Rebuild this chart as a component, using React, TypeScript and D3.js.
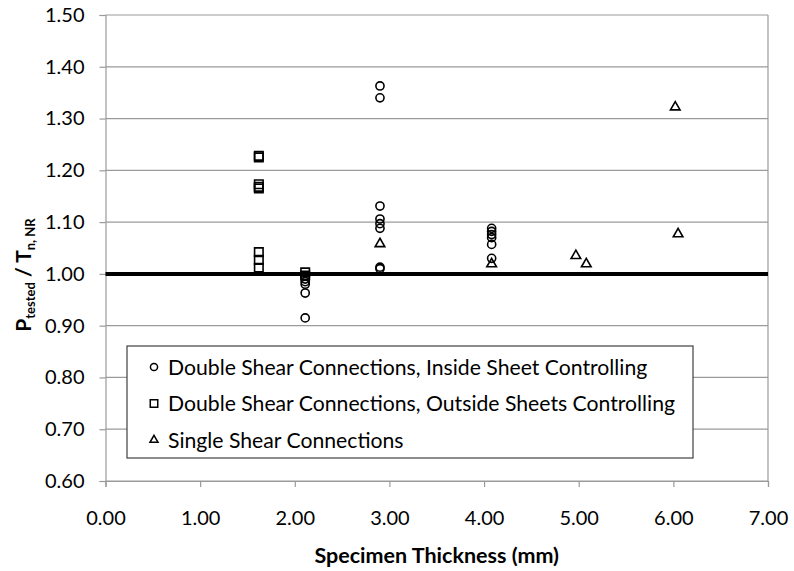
import React, { useEffect, useRef } from 'react';
import * as d3 from 'd3';

const W = 794;
const H = 571;
const M = { top: 15, right: 26, bottom: 90, left: 105.5 };

const xTicks = [0, 1, 2, 3, 4, 5, 6, 7];
const yTicks = [0.6, 0.7, 0.8, 0.9, 1.0, 1.1, 1.2, 1.3, 1.4, 1.5];

// [thickness (mm), P_tested / T_n,NR]
const insideSheet: [number, number][] = [
  [2.11, 0.99], [2.11, 0.985], [2.11, 0.98], [2.11, 0.963], [2.11, 0.915],
  [2.9, 1.363], [2.9, 1.34], [2.9, 1.131], [2.9, 1.106], [2.9, 1.097], [2.9, 1.088],
  [2.9, 1.013], [2.9, 1.01],
  [4.08, 1.088], [4.08, 1.082], [4.08, 1.076], [4.08, 1.07], [4.08, 1.057], [4.08, 1.03],
];
const outsideSheets: [number, number][] = [
  [1.62, 1.228], [1.62, 1.225], [1.62, 1.173], [1.62, 1.168], [1.62, 1.165],
  [1.62, 1.042], [1.62, 1.027], [1.62, 1.012],
  [2.11, 1.003], [2.11, 0.997],
];
const singleShear: [number, number][] = [
  [2.9, 1.06], [4.08, 1.021], [4.97, 1.037], [5.08, 1.021], [6.02, 1.324], [6.05, 1.079],
];
const legendLabels = [
  'Double Shear Connections, Inside Sheet Controlling',
  'Double Shear Connections, Outside Sheets Controlling',
  'Single Shear Connections',
];

const FONT = 'Lato, "Open Sans", sans-serif';
const GRID = '#9a9a9a';

export default function App() {
  const ref = useRef<SVGSVGElement>(null);

  useEffect(() => {
    const svg = d3.select(ref.current);
    svg.selectAll('*').remove();
    const innerW = W - M.left - M.right;
    const innerH = H - M.top - M.bottom;

    const x = d3.scaleLinear().domain([0, 7]).range([0, innerW]);
    const y = d3.scaleLinear().domain([0.6, 1.5]).range([innerH, 0]);

    const g = svg.append('g').attr('transform', `translate(${M.left},${M.top})`);

    // gridlines
    g.selectAll('line.grid')
      .data(yTicks)
      .join('line')
      .attr('class', 'grid')
      .attr('x1', 0)
      .attr('x2', innerW)
      .attr('y1', (d) => y(d))
      .attr('y2', (d) => y(d))
      .attr('stroke', GRID)
      .attr('stroke-width', 1.2);

    // right border
    g.append('line')
      .attr('x1', innerW).attr('x2', innerW)
      .attr('y1', 0).attr('y2', innerH)
      .attr('stroke', GRID).attr('stroke-width', 1.2);

    const xAxis = g.append('g').attr('transform', `translate(0,${innerH})`)
      .call(d3.axisBottom(x).tickValues(xTicks).tickFormat(d3.format('.2f')).tickSize(6).tickPadding(24));
    xAxis.selectAll('text').attr('fill', '#000').attr('font-size', 20).attr('font-family', FONT);
    xAxis.selectAll('path,line').attr('stroke', GRID).attr('stroke-width', 1.2);

    const yAxis = g.append('g')
      .call(d3.axisLeft(y).tickValues(yTicks).tickFormat(d3.format('.2f')).tickSize(6).tickPadding(15));
    yAxis.selectAll('text').attr('fill', '#000').attr('font-size', 20).attr('font-family', FONT);
    yAxis.selectAll('path,line').attr('stroke', GRID).attr('stroke-width', 1.2);

    // reference line at 1.00
    g.append('line')
      .attr('x1', 0).attr('x2', innerW)
      .attr('y1', y(1)).attr('y2', y(1))
      .attr('stroke', '#000').attr('stroke-width', 4);

    const circle = d3.symbol().type(d3.symbolCircle).size(52);
    const square = d3.symbol().type(d3.symbolSquare).size(72);
    const tri = d3.symbol().type(d3.symbolTriangle).size(40);

    const drawSeries = (data: [number, number][], path: any, dy = 0) => {
      g.append('g')
        .selectAll('path')
        .data(data)
        .join('path')
        .attr('d', path)
        .attr('transform', (d) => `translate(${x(d[0])},${y(d[1]) + dy})`)
        .attr('fill', 'none')
        .attr('stroke', '#000')
        .attr('stroke-width', 1.6);
    };
    drawSeries(outsideSheets, square);
    drawSeries(insideSheet, circle);
    drawSeries(singleShear, tri, 1);

    // legend
    const lg = svg.append('g').attr('transform', 'translate(127,346)');
    lg.append('rect')
      .attr('width', 566).attr('height', 112)
      .attr('fill', '#fff').attr('stroke', '#404040').attr('stroke-width', 1.2);
    const symbols = [d3.symbol().type(d3.symbolCircle).size(40), d3.symbol().type(d3.symbolSquare).size(56), d3.symbol().type(d3.symbolTriangle).size(28)];
    const rows = lg.selectAll('g.row')
      .data(legendLabels)
      .join('g')
      .attr('class', 'row')
      .attr('transform', (_, i) => `translate(0,${21 + i * 36.5})`);
    rows.append('path')
      .attr('d', (_, i) => symbols[i]())
      .attr('transform', 'translate(27,0)')
      .attr('fill', 'none').attr('stroke', '#000').attr('stroke-width', 1.5);
    rows.append('text')
      .attr('x', 41)
      .attr('y', 7.5)
      .attr('font-family', FONT)
      .attr('font-size', 21.2)
      .attr('fill', '#000')
      .text((d) => d);

    // x title
    svg.append('text')
      .attr('x', M.left + innerW / 2)
      .attr('y', 563)
      .attr('text-anchor', 'middle')
      .attr('font-family', FONT)
      .attr('font-weight', 'bold')
      .attr('font-size', 21.5)
      .attr('fill', '#000')
      .text('Specimen Thickness (mm)');

    // y title
    const yt = svg.append('text')
      .attr('transform', 'translate(31,275) rotate(-90)')
      .attr('text-anchor', 'middle')
      .attr('font-family', FONT)
      .attr('font-weight', 'bold')
      .attr('fill', '#000')
      .attr('font-size', 21);
    yt.append('tspan').text('P');
    yt.append('tspan').attr('font-size', 13).attr('dy', 4).text('tested');
    yt.append('tspan').attr('dy', -4).text(' / T');
    yt.append('tspan').attr('font-size', 13).attr('dy', 4).text('n, NR');
  }, []);

  return (
    <svg
      ref={ref}
      width={W}
      height={H}
      style={{ position: 'absolute', left: 0, top: 0, background: '#fff' }}
    />
  );
}
